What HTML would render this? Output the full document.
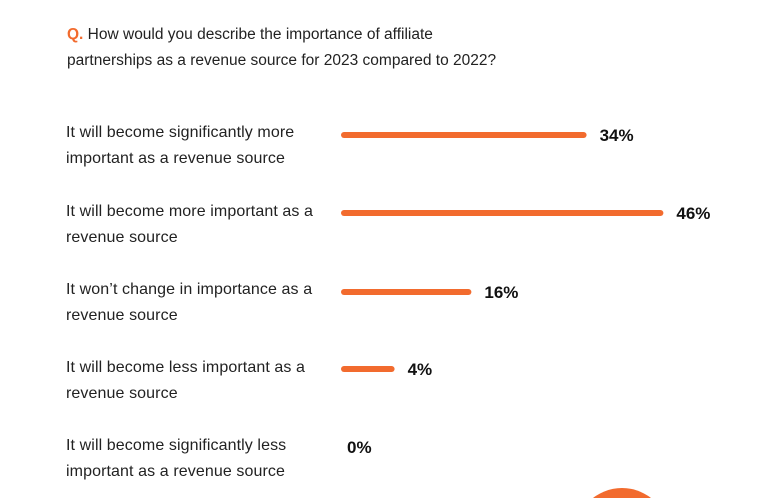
<!DOCTYPE html>
<html><head><meta charset="utf-8"><style>
html,body{margin:0;width:774px;height:498px;overflow:hidden}
body{background:#fff;position:relative;font-family:"Liberation Sans",sans-serif;color:#222}
.q{position:absolute;left:67px;top:22px;font-size:15.5px;line-height:26px}
.q b{color:#f26b2e}
.lab{position:absolute;left:66px;font-size:16px;line-height:26px;letter-spacing:0.1px}
svg{position:absolute;left:0;top:0}
</style></head><body>
<div class="q"><b>Q.</b> How would you describe the importance of affiliate<br>partnerships as a revenue source for 2023 compared to 2022?</div>
<div class="lab" style="top:120px">It will become significantly more<br>important as a revenue source</div>
<div class="lab" style="top:199px">It will become more important as a<br>revenue source</div>
<div class="lab" style="top:277px">It won’t change in importance as a<br>revenue source</div>
<div class="lab" style="top:355px">It will become less important as a<br>revenue source</div>
<div class="lab" style="top:433px">It will become significantly less<br>important as a revenue source</div>
<svg id="chart" width="774" height="498">
<circle cx="622" cy="535" r="47" fill="#f26b2e"/>
</svg>
<script>
const categories=["Significantly more","More","No change","Less","Significantly less"];
const values=[34,46,16,4,0];
const rowY=[135,213,292,369,447];
const svg=document.getElementById('chart');
const NS='http://www.w3.org/2000/svg';
const x0=341;
function barLen(v){return v>0?28+6.4*v:0;}
values.forEach((v,i)=>{
  const y=rowY[i];
  const len=barLen(v);
  if(len>0){
    const l=document.createElementNS(NS,'line');
    l.setAttribute('x1',x0+3);l.setAttribute('x2',x0+len-3);
    l.setAttribute('y1',y);l.setAttribute('y2',y);
    l.setAttribute('stroke','#f26b2e');l.setAttribute('stroke-width','6');l.setAttribute('stroke-linecap','round');
    
    
    svg.appendChild(l);
  }
  const t=document.createElementNS(NS,'text');
  t.setAttribute('x',len>0?x0+len+13:x0+6);
  t.setAttribute('y',y+6);
  t.setAttribute('font-size','17');t.setAttribute('font-weight','bold');t.setAttribute('fill','#111');
  t.setAttribute('font-family','Liberation Sans, sans-serif');
  t.textContent=v+'%';
  
  
  svg.appendChild(t);
});
</script>
</body></html>
